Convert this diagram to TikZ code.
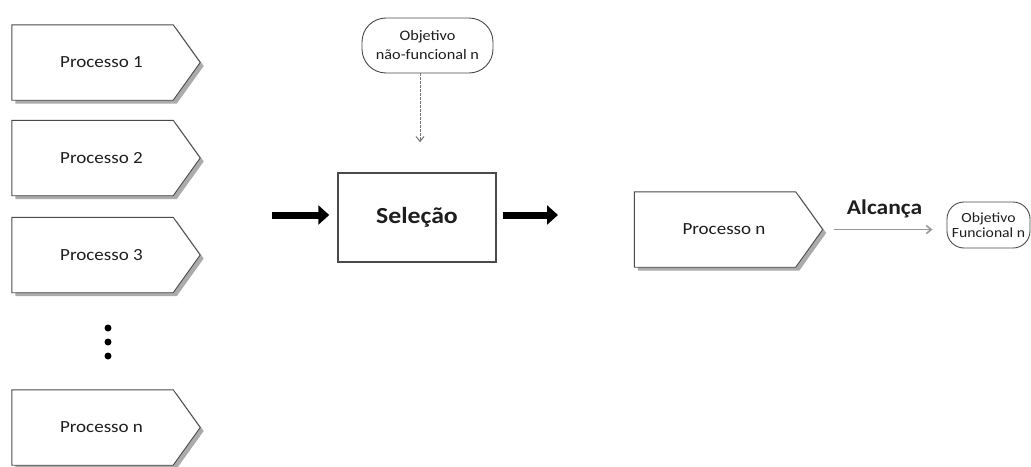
\documentclass[tikz,border=0pt]{standalone}
\usepackage{fontspec}
\setmainfont{Carlito}[FakeStretch=1.12]
\usetikzlibrary{shadows,arrows.meta,calc}
\definecolor{edge}{HTML}{4A4A4A}
\definecolor{ink}{HTML}{1E1E1E}
\tikzset{
  proctext/.style={minimum width=161pt, minimum height=75pt, inner sep=0pt},
  proclabel/.style={text=ink, font=\fontsize{17}{20}\selectfont},
  procshape/.style={draw=edge, line width=0.9pt, fill=white,
    drop shadow={shadow xshift=3.5pt, shadow yshift=-3.5pt, fill=black!60, opacity=0.55}},
  selbox/.style={draw=edge, line width=1.5pt, fill=white, minimum width=158pt,
    minimum height=89pt, inner sep=0pt, text=ink, font=\fontsize{23}{26}\bfseries\selectfont},
  goalbox/.style={draw=edge, line width=0.9pt, fill=white,
    inner sep=0pt, align=center, text=ink},
  bigarrow/.style={line width=7pt, -{Triangle[length=11pt,width=19pt]}, black},
  thinarrow/.style={draw=black!40, line width=1.6pt, -{Straight Barb[length=5pt,width=8pt]}},
  dotarrow/.style={draw=black!55, line width=1pt, dash pattern=on 2.5pt off 1.5pt,
    -{Straight Barb[length=5pt,width=8pt]}},
  dot/.style={circle, fill=black, inner sep=0pt, minimum size=7pt}
}
% process box: rectangle body #1 at #2 with a pointed right end (#1-tip) and label #1-label
\newcommand{\procnode}[3]{%
  \node[proctext] (#1) at (#2) {};
  \coordinate (#1-tip) at ($(#1.east)+(27,0)$);
  \path[procshape] (#1.north west) -- (#1.north east) -- (#1-tip)
     -- (#1.south east) -- (#1.south west) -- cycle;
  \node[proclabel] (#1-label) at ($(#1.center)+(9,0)$) {#3};
}
\begin{document}
\begin{tikzpicture}[x=1pt,y=-1pt]
  \useasboundingbox (0,0) rectangle (1031,466);

  % column of processes
  \procnode{p1}{92.5,62.5}{Processo 1}
  \procnode{p2}{92.5,158}{Processo 2}
  \procnode{p3}{92.5,255}{Processo 3}
  \node[dot] (d1) at (108,328) {};
  \node[dot] (d2) at (108,342) {};
  \node[dot] (d3) at (108,356) {};
  \procnode{pn}{92.5,427.5}{Processo n}

  % selection step
  \node[selbox] (sel) at (417,217.5) {Seleção};
  \node[goalbox, minimum width=131pt, minimum height=55pt, rounded corners=24pt,
        font=\fontsize{14.5}{19}\selectfont] (nf) at (427.5,45.5) {Objetivo\\não-funcional n};
  \coordinate (in) at (272,215);
  \coordinate (out) at (558,215);
  \draw[bigarrow, shorten >=8pt] (in) -- (in -| sel.west);
  \draw[bigarrow, shorten <=6pt] (sel.east |- out) -- (out);
  \draw[dotarrow, shorten >=30pt] ([xshift=-7.5pt]nf.south) -- ([xshift=-7.5pt]nf.south |- sel.north);

  % selected process and its functional goal
  \procnode{ps}{715,229.5}{Processo n}
  \node[goalbox, minimum width=83pt, minimum height=46pt, rounded corners=17pt,
        font=\fontsize{14}{15}\selectfont] (fg) at (988.5,225) {Objetivo\\Funcional n};
  \draw[thinarrow, shorten <=11pt, shorten >=14pt] (ps-tip) -- (ps-tip -| fg.west)
    node[midway, above=7pt, text=ink, font=\fontsize{21}{24}\bfseries\selectfont] (reach) {Alcança};
\end{tikzpicture}
\end{document}
